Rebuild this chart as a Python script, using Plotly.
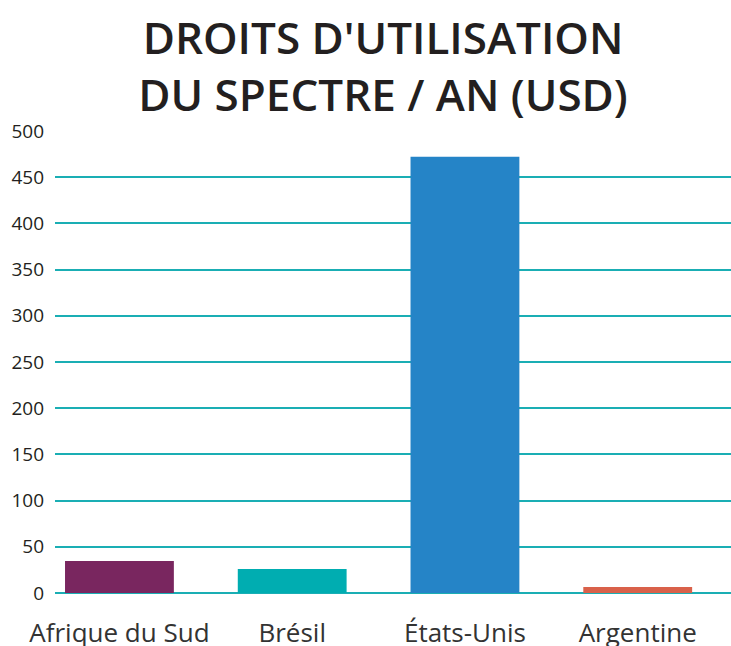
import plotly.graph_objects as go

categories = ["Afrique du Sud", "Brésil", "États-Unis", "Argentine"]
values = [34.5, 26, 472, 6.5]
colors = ["#79265f", "#00adb1", "#2584c7", "#d9614a"]
y_ticks = [0, 50, 100, 150, 200, 250, 300, 350, 400, 450, 500]
title_lines = ["DROITS D'UTILISATION", "DU SPECTRE / AN (USD)"]

fig = go.Figure()
fig.add_trace(go.Bar(x=categories, y=values, marker=dict(color=colors, line=dict(width=0)), width=0.63))

fig.update_layout(
    width=731, height=646,
    paper_bgcolor="white", plot_bgcolor="white",
    margin=dict(l=55, r=0, t=131, b=53, autoexpand=False),
    showlegend=False,
    title=dict(text="<br>".join(title_lines), x=0.524, xanchor="center",
               xref="container", yref="container",
               y=1 - 54 / 646, yanchor="top",
               font=dict(family="Open Sans", size=44, color="#231f20", weight=600)),
    font=dict(family="Open Sans", color="#231f20"),
)
fig.update_xaxes(range=[-0.373, 3.54], showgrid=False, showline=False, zeroline=False,
                 automargin=False,
                 ticks="", tickfont=dict(size=26, color="#333333"), ticklabelstandoff=22)
fig.update_yaxes(range=[0, 500], tickvals=y_ticks, showgrid=True, gridcolor="#1aaeb4",
                 gridwidth=1.5, zeroline=True, zerolinecolor="#1aaeb4", zerolinewidth=2,
                 automargin=False,
                 showline=False, ticks="", tickfont=dict(size=19, color="#231f20"),
                 ticklabelstandoff=10)

fig.write_html("out.html", config={"displayModeBar": False},
               post_script="document.body.style.margin='0';")
